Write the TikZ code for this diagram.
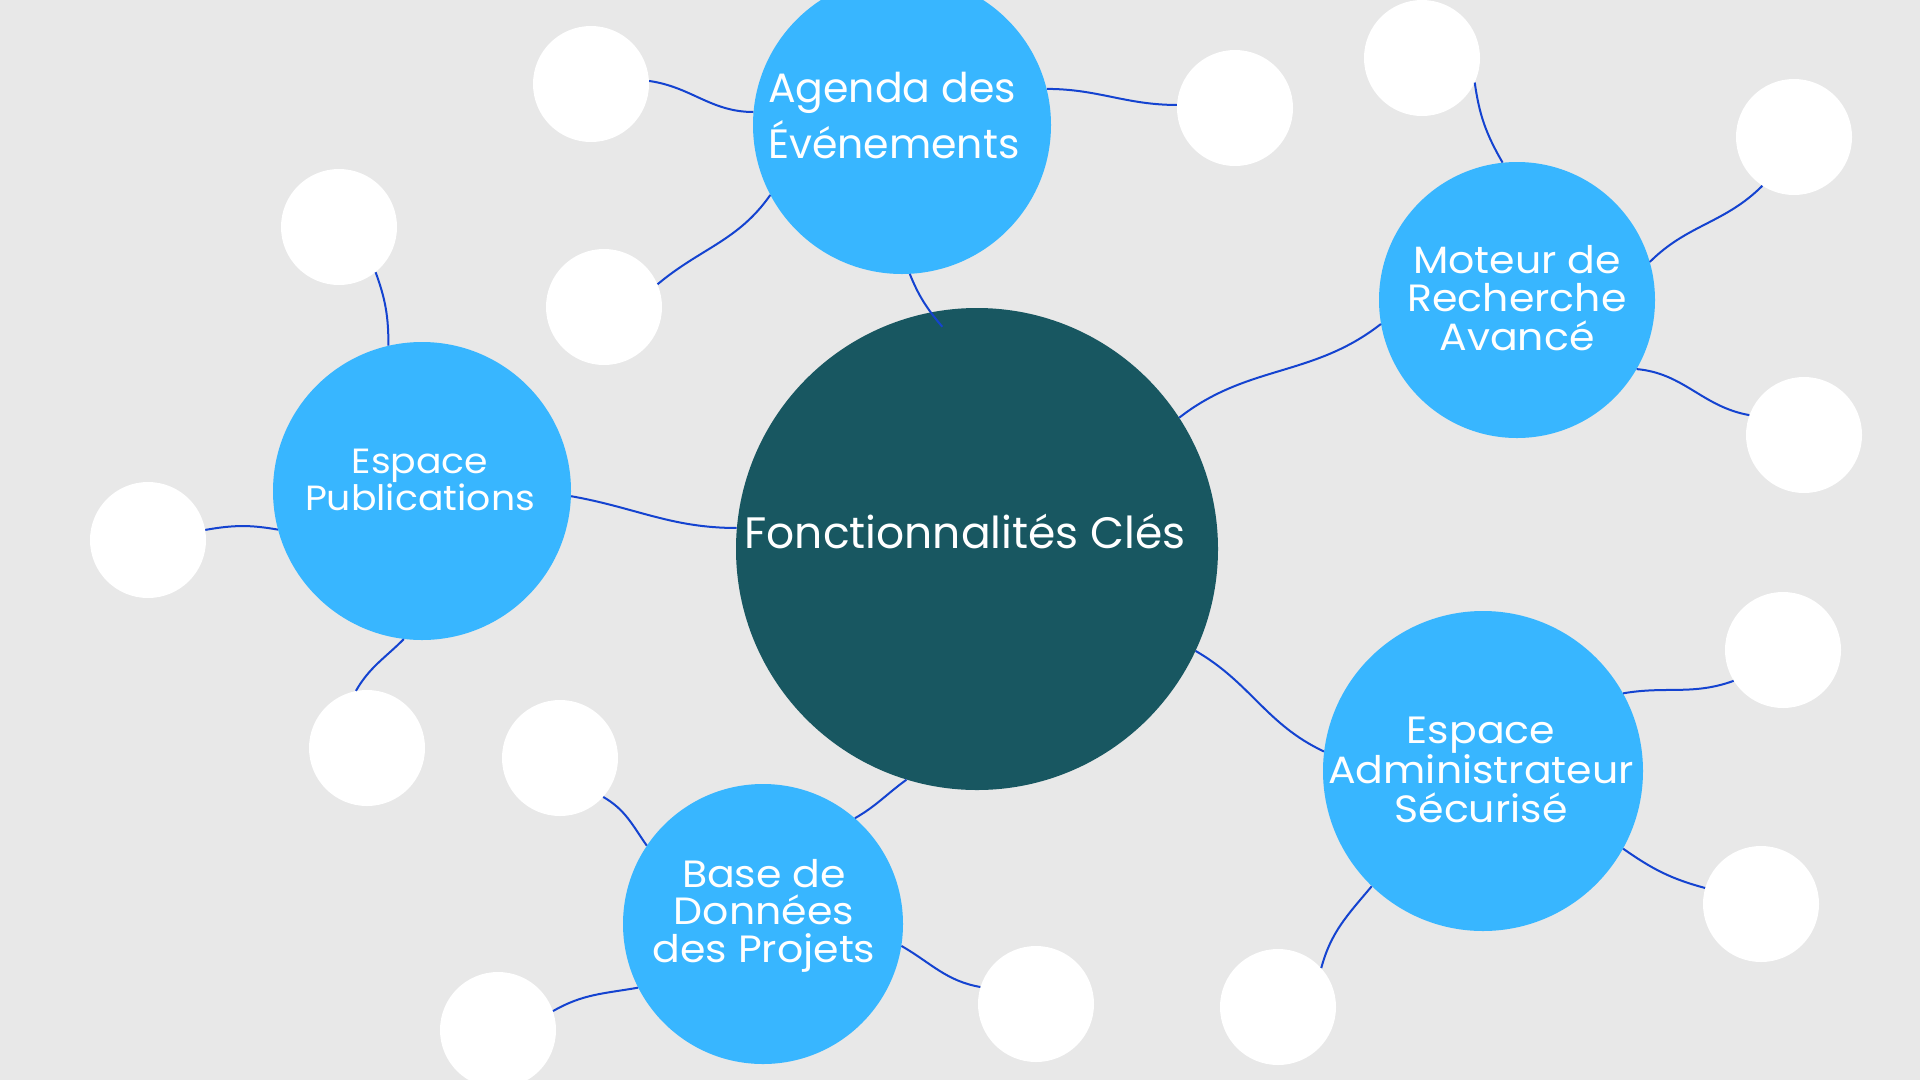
\documentclass[tikz,border=0pt]{standalone}
\usepackage{fontspec}
\usetikzlibrary{calc}
\setmainfont{Poppins}
\newfontfamily\widefont{Poppins}[FakeStretch=1.08]
\definecolor{paper}{HTML}{E8E8E8}
\definecolor{hubteal}{HTML}{185761}
\definecolor{topicblue}{HTML}{38B6FF}
\definecolor{linkblue}{HTML}{1443D0}
\begin{document}
\begin{tikzpicture}[x=1pt,y=-1pt,
  hub/.style={circle, fill=hubteal, minimum size=482pt, inner sep=0pt},
  topic/.style={circle, fill=topicblue, inner sep=0pt},
  leaf/.style={circle, fill=white, minimum size=116pt, inner sep=0pt},
  link/.style={draw=linkblue, line width=2pt},
  lbl/.style={text=white, align=center, anchor=base, inner sep=0pt}]
  % canvas and frame
  \useasboundingbox (0,0) rectangle (1920,1080);
  \fill[paper] (0,0) rectangle (1920,1080);
  \clip (0,0) rectangle (1920,1080);

  % circles
  \node[hub] (hub) at (977,549) {};
  \node[topic, minimum size=298pt] (agenda) at (902,125) {};
  \node[topic, minimum size=276pt] (moteur) at (1517,300) {};
  \node[topic, minimum size=298pt] (pub) at (422,491) {};
  \node[topic, minimum size=280pt] (base) at (763,924) {};
  \node[topic, minimum size=320pt] (admin) at (1483,771) {};

  \node[leaf] (w1) at (591,84) {};
  \node[leaf] (w2) at (604,307) {};
  \node[leaf] (w3) at (1235,108) {};
  \node[leaf] (w4) at (1422,58) {};
  \node[leaf] (w5) at (1794,137) {};
  \node[leaf] (w6) at (1804,435) {};
  \node[leaf] (w7) at (339,227) {};
  \node[leaf] (w8) at (148,540) {};
  \node[leaf] (w9) at (367,748) {};
  \node[leaf] (w10) at (560,758) {};
  \node[leaf] (w11) at (498,1030) {};
  \node[leaf] (w12) at (1036,1004) {};
  \node[leaf] (w13) at (1783,650) {};
  \node[leaf] (w14) at (1761,904) {};
  \node[leaf] (w15) at (1278,1007) {};

  % hub to topics
  \draw[link] (agenda.273) to[out=-68,in=130] ($(hub.99)+(3,16)$);
  \draw[link] (hub.33) to[out=38,in=218] (moteur.190);
  \draw[link] (pub.358) to[out=-10,in=180] (hub.175);
  \draw[link] (hub.253) to[out=216,in=30] (base.49);
  \draw[link] (hub.335) to[out=-30,in=155] (admin.173);

  % topics to leaves
  \draw[link] (w1.3) to[out=-8,in=180] (agenda.175);
  \draw[link] (w2.23) to[out=40,in=235] (agenda.208);
  \draw[link] (agenda.14) to[out=0,in=180] (w3.177);
  \draw[link] (w4.335) to[out=-82,in=120] (moteur.96);
  \draw[link] (moteur.16) to[out=45,in=225] (w5.237);
  \draw[link] (moteur.330) to[out=-5,in=170] (w6.160);
  \draw[link] (w7.309) to[out=-70,in=90] (pub.103);
  \draw[link] (w8.10) to[out=10,in=170] (pub.195);
  \draw[link] (w9.101) to[out=60,in=225] (pub.263);
  \draw[link] (w10.318) to[out=-30,in=125] (base.146);
  \draw[link] (w11.19) to[out=30,in=190] (base.207);
  \draw[link] (base.351) to[out=-30,in=170] (w12.163);
  \draw[link] (admin.29) to[out=10,in=200] (w13.212);
  \draw[link] (admin.331) to[out=-35,in=165] (w14.164);
  \draw[link] (w15.42) to[out=75,in=230] (admin.226);

  % labels (multi-line labels sit on the baseline of their last line)
  \node[lbl, font=\fontsize{44}{50}\selectfont] (thub) at (965,548) {Fonctionnalités Clés};
  \node[lbl, anchor=base west, align=left, font=\fontsize{41}{56}\selectfont] (tagenda) at (768,158) {Agenda des\\Événements};
  \node[lbl, font=\widefont\fontsize{38}{38.5}\selectfont] (tmoteur) at (1517,350) {Moteur de\\Recherche\\Avancé};
  \node[lbl, font=\widefont\fontsize{35}{35}\selectfont] (tpub) at (420,510) {Espace\\Publications};
  \node[lbl, font=\widefont\fontsize{38}{37.5}\selectfont] (tbase) at (764,962) {Base de\\Données\\des Projets};
  \node[lbl, font=\widefont\fontsize{38}{38.5}\selectfont] (tadmin) at (1481,822) {Espace\\Administrateur\\Sécurisé};
\end{tikzpicture}
\end{document}
